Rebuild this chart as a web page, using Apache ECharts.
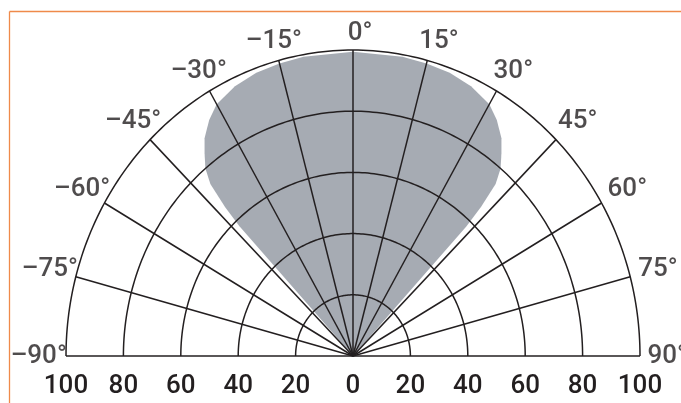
<!DOCTYPE html>
<html>
<head>
<meta charset="utf-8">
<script src="https://cdn.jsdelivr.net/npm/echarts@6/dist/echarts.min.js"></script>
<style>
  html, body { margin: 0; padding: 0; background: #fff; }
  #polarC { width: 681px; height: 403px; }
</style>
</head>
<body>
<div id="polarC"></div>
<script>
// rings of relative intensity (%)
var ringValues = [20, 40, 60, 80, 100];
// spokes, degrees from straight up
var spokeAngles = [-90, -75, -60, -45, -30, -15, 0, 15, 30, 45, 60, 75, 90];
// lobe outline: angle (deg) / radius (%)
var lobeAngles = [-43, -43, -42.5, -41.5, -40, -38, -36, -33, -30, -25, -20, -15, -10, 0, 10, 15, 20, 25, 30, 33, 36, 38, 40, 41.5, 42.5, 43, 43];
var lobeRadius = [0, 58, 66, 75, 80, 84, 88, 92, 95, 97.3, 98.5, 99, 99.3, 99.4, 99.3, 99, 98.5, 97.3, 95, 92, 88, 84, 80, 75, 66, 58, 0];

var ink = "#231f20";
var font = "Roboto";

function toXY(deg, r) {
  var a = deg * Math.PI / 180;
  return [r * Math.sin(a), r * Math.cos(a)];
}

function angleText(a) {
  return (a < 0 ? "\u2013" + (-a) : String(a)) + "\u00b0";
}

var lobeXY = lobeAngles.map(function (a, i) { return toXY(a, lobeRadius[i]); });

var labelData = spokeAngles.map(function (a) {
  var rad = a * Math.PI / 180;
  var r = 105.5 + 4 * Math.abs(Math.sin(rad));
  return {
    name: angleText(a),
    value: toXY(a, r),
    label: { offset: [a >= 0 ? 7 * Math.cos(rad) : 0, 0] }
  };
});

var chart = echarts.init(document.getElementById("polarC"));

chart.setOption({
  animation: false,
  backgroundColor: "#fff",
  grid: { left: 66, right: 41, top: 50, bottom: 47 },
  xAxis: {
    type: "value",
    min: -100,
    max: 100,
    interval: 20,
    axisLine: { show: false },
    axisTick: { show: false },
    splitLine: { show: false },
    axisLabel: {
      margin: 17,
      fontSize: 26,
      fontWeight: 500,
      fontFamily: font,
      color: ink,
      formatter: function (v) { return Math.abs(v); }
    }
  },
  yAxis: { type: "value", min: 0, max: 100, show: false },
  graphic: [
    { type: "line", shape: { x1: 9.5, y1: 11.5, x2: 681, y2: 11.5 }, style: { stroke: "#ef8a4a", lineWidth: 1.3 } },
    { type: "line", shape: { x1: 9.5, y1: 11.5, x2: 9.5, y2: 403 }, style: { stroke: "#ef8a4a", lineWidth: 1.3 } }
  ],
  series: [
    {
      // the lobe
      type: "custom",
      z: 1,
      clip: false,
      silent: true,
      data: lobeXY,
      renderItem: function (params, api) {
        if (params.dataIndex !== 0) return;
        var pts = lobeXY.map(function (p) { return api.coord(p); });
        return { type: "polygon", shape: { points: pts }, style: { fill: "#a6abb3" } };
      }
    },
    {
      // rings
      type: "custom",
      z: 2,
      clip: false,
      silent: true,
      data: ringValues.map(function (v) { return [v, 0]; }),
      renderItem: function (params, api) {
        var r = api.value(0);
        var pts = [];
        for (var a = -90; a <= 90; a += 1) pts.push(api.coord(toXY(a, r)));
        return { type: "polyline", shape: { points: pts }, style: { stroke: ink, lineWidth: 1.5, fill: null } };
      }
    },
    {
      // spokes
      type: "custom",
      z: 2,
      clip: false,
      silent: true,
      data: spokeAngles.map(function (a) { return [a, 0]; }),
      renderItem: function (params, api) {
        var p0 = api.coord([0, 0]);
        var p1 = api.coord(toXY(api.value(0), 100));
        return { type: "line", shape: { x1: p0[0], y1: p0[1], x2: p1[0], y2: p1[1] }, style: { stroke: ink, lineWidth: 1.5 } };
      }
    },
    {
      // angle labels
      type: "scatter",
      z: 3,
      clip: false,
      silent: true,
      symbolSize: 0,
      itemStyle: { color: "transparent" },
      data: labelData,
      label: {
        show: true,
        position: "inside",
        formatter: "{b}",
        fontSize: 26,
        fontWeight: 500,
        fontFamily: font,
        color: ink
      }
    }
  ]
});
</script>
</body>
</html>
